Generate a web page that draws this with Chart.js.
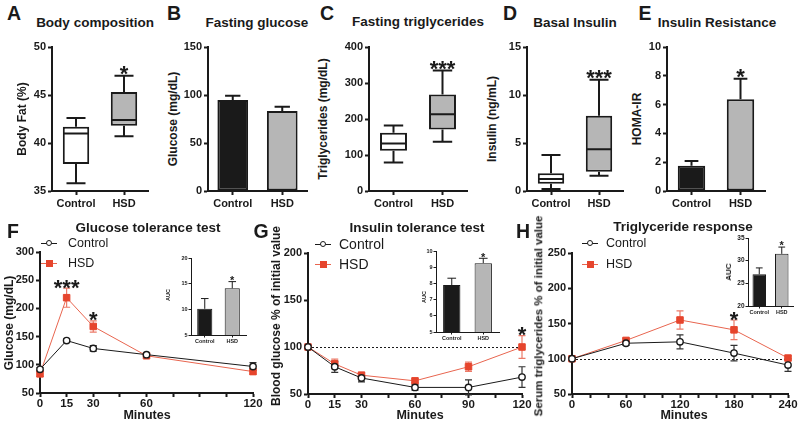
<!DOCTYPE html>
<html><head><meta charset="utf-8">
<script src="https://cdn.jsdelivr.net/npm/chart.js@4.4.0/dist/chart.umd.min.js"></script>
<style>
html,body{margin:0;padding:0;background:#fff;}
#root{position:relative;width:800px;height:427px;overflow:hidden;font-family:"Liberation Sans",Arial,Helvetica,sans-serif;color:#1a1a1a;}
.t{position:absolute;white-space:nowrap;transform:translate(-50%,-50%);line-height:1;}
.r{transform:translate(-50%,-50%) rotate(-90deg);}
.l{position:absolute;white-space:nowrap;transform:translate(0,-50%);line-height:1;}
</style></head><body><div id="root"></div>
<script>
// ---------------- DATA ----------------
const groups = ['Control', 'HSD'];

// A  Body composition: [min, q1, median, q3, max]
const bodyFatControl = [35.8, 37.8, 41.0, 41.7, 42.6];
const bodyFatHSD     = [40.7, 41.8, 42.4, 45.3, 47.0];
const bodyFatSig     = ['', '*'];
// B  Fasting glucose (mean, error)
const glucoseMean = [94.8, 83.3];
const glucoseErr  = [4.4, 4.5];
const glucoseSig  = ['', ''];
// C  Fasting triglycerides
const tgControl = [79, 112, 132, 162, 182];
const tgHSD     = [137, 171, 213, 268, 335];
const tgSig     = ['', '***'];
// D  Basal insulin
const insulinControl = [0.2, 0.75, 1.25, 1.85, 3.75];
const insulinHSD     = [1.6, 2.0, 4.35, 7.85, 11.6];
const insulinSig     = ['', '***'];
// E  HOMA-IR
const homaMean = [1.76, 6.37];
const homaErr  = [0.33, 1.43];
const homaSig  = ['', '*'];

// F  Glucose tolerance test
const gttMinutes    = [0, 15, 30, 60, 120];
const gttTickLabels = [0, 15, 30, 60, 120];
const gttControl    = [92, 143, 129, 118, 97];
const gttControlErr = [3, 3, 5, 3, 7];
const gttHSD        = [84, 219, 168, 116, 88];
const gttHSDErr     = [5, 17, 10, 3, 5];
const gttSig        = ['', '***', '*', '', ''];
const gttAuc        = [10.1, 14.1];
const gttAucErr     = [2.0, 1.3];
const gttAucSig     = ['', '*'];

// G  Insulin tolerance test (% of initial)
const ittMinutes    = [0, 15, 30, 60, 90, 120];
const ittTickLabels = [0, 15, 30, 60, 90, 120];
const ittControl    = [100, 79, 67, 57, 57, 68];
const ittControlErr = [0, 6, 4, 3, 8, 11];
const ittHSD        = [100, 82, 70, 64, 79, 100];
const ittHSDErr     = [0, 5, 3, 2, 5, 12];
const ittSig        = ['', '', '', '', '', '*'];
const ittAuc        = [7.9, 9.25];
const ittAucErr     = [0.42, 0.3];
const ittAucSig     = ['', '*'];

// H  Triglyceride response (% of initial)
const tgrMinutes    = [0, 60, 120, 180, 240];
const tgrTickLabels = [0, 60, 120, 180, 240];
const tgrControl    = [100, 122, 124, 108, 91];
const tgrControlErr = [0, 3, 10, 11, 9];
const tgrHSD        = [100, 126, 155, 141, 101];
const tgrHSDErr     = [0, 3, 13, 14, 3];
const tgrSig        = ['', '', '', '*', ''];
const tgrAuc        = [27.0, 31.5];
const tgrAucErr     = [1.4, 1.5];
const tgrAucSig     = ['', '*'];

const referenceLevel = 100;

// ---------------- STYLE ----------------
const FONT = '"Liberation Sans", Arial, Helvetica, sans-serif';
const INK = '#1a1a1a', GRAY = '#b6b6b6', RED = '#e6452d', RED_LINE = '#e8654f', RED_ERR = '#ec7a68';
Chart.defaults.font.family = FONT;
const MAIN = {font: 11, pad: 2, tick: 4, lw: 2};
const MAIN_X = {font: 11, pad: 3, tick: 4, lw: 2};
const LINE_X = {font: 11.5, pad: 1, tick: 4, lw: 2};
const INSET = {font: 5.5, pad: 1, tick: 2.5, lw: 1};

const root = document.getElementById('root');
function canvasAt(b) {
  const c = document.createElement('canvas');
  c.width = b.w; c.height = b.h;
  c.style.cssText = `position:absolute;left:${b.l}px;top:${b.t}px;width:${b.w}px;height:${b.h}px;`;
  root.appendChild(c);
  return c;
}
function frame(b, a) { return {yW: a.l - b.l, xH: b.t + b.h - a.b, padT: a.t - b.t, padR: b.l + b.w - a.r}; }
function fnt(s) { return {family: FONT, size: s.font, weight: 'bold', lineHeight: 1}; }
function gridOpt(s, offset) {
  return {offset: offset, drawOnChartArea: false, drawTicks: true, tickLength: s.tick, tickWidth: s.lw, tickColor: INK};
}
function yScale(f, min, max, step, s) {
  return {type: 'linear', min, max,
    ticks: {stepSize: step, color: INK, font: fnt(s), padding: s.pad, autoSkip: false},
    grid: gridOpt(s, false), border: {display: true, width: s.lw, color: INK},
    afterFit(sc) { sc.width = f.yW; }};
}
function xCat(f, s) {
  return {type: 'category', offset: true,
    ticks: {color: INK, font: fnt(s), padding: s.pad, autoSkip: false, maxRotation: 0},
    grid: gridOpt(s, false), border: {display: true, width: s.lw, color: INK},
    afterFit(sc) { sc.height = f.xH; }};
}
function xLin(f, s, max, step, shown) {
  return {type: 'linear', min: 0, max,
    ticks: {stepSize: step, color: INK, font: fnt(s), padding: s.pad, autoSkip: false, maxRotation: 0,
      callback: v => shown.includes(v) ? String(v) : ''},
    grid: gridOpt(s, false), border: {display: true, width: s.lw, color: INK},
    afterFit(sc) { sc.height = f.xH; }};
}
function baseOptions(f, scales) {
  return {responsive: false, animation: false, events: [],
    layout: {padding: {top: f.padT, right: f.padR, left: 0, bottom: 0}},
    plugins: {legend: {display: false}, tooltip: {enabled: false}, title: {display: false}},
    scales};
}
function drawSig(ctx, text, x, cy, size) {
  if (!text) return;
  ctx.save();
  ctx.fillStyle = INK; ctx.font = `bold ${size}px ${FONT}`;
  ctx.textAlign = 'center'; ctx.textBaseline = 'alphabetic';
  ctx.fillText(text, x, cy + size * 0.57);
  ctx.restore();
}

// ---------- box plot ----------
function boxChart(b, a, stats, sig, ymin, ymax, step) {
  const f = frame(b, a);
  const whisk = {id: 'whisk', afterDatasetsDraw(chart) {
    const ctx = chart.ctx, y = chart.scales.y, meta = chart.getDatasetMeta(0);
    const py = v => y.getPixelForValue(v);
    ctx.save(); ctx.strokeStyle = INK; ctx.lineWidth = 2;
    stats.forEach((s, i) => {
      const el = meta.data[i], x = el.x, half = el.width / 2, cap = el.width * 0.36;
      ctx.beginPath();
      ctx.moveTo(x, py(s[3])); ctx.lineTo(x, py(s[4]));
      ctx.moveTo(x - cap, py(s[4])); ctx.lineTo(x + cap, py(s[4]));
      ctx.moveTo(x, py(s[1])); ctx.lineTo(x, py(s[0]));
      ctx.moveTo(x - cap, py(s[0])); ctx.lineTo(x + cap, py(s[0]));
      ctx.moveTo(x - half + 1, py(s[2])); ctx.lineTo(x + half - 1, py(s[2]));
      ctx.stroke();
      drawSig(ctx, sig[i], x, py(s[4]) - 7, 22);
    });
    ctx.restore();
  }};
  new Chart(canvasAt(b), {
    type: 'bar',
    data: {labels: groups, datasets: [{data: stats.map(s => [s[1], s[3]]),
      backgroundColor: ['#ffffff', GRAY], borderColor: INK, borderWidth: 2, borderSkipped: false,
      barPercentage: 0.55, categoryPercentage: 1}]},
    options: baseOptions(f, {x: xCat(f, MAIN_X), y: yScale(f, ymin, ymax, step, MAIN)}),
    plugins: [whisk]
  });
}

// ---------- bar with error ----------
function barChart(b, a, means, errs, sig, ymin, ymax, step, st, stx, pct, sigSize, sigOff) {
  const f = frame(b, a);
  const eb = {id: 'errbar', afterDatasetsDraw(chart) {
    const ctx = chart.ctx, y = chart.scales.y, meta = chart.getDatasetMeta(0);
    ctx.save(); ctx.strokeStyle = INK; ctx.lineWidth = st.lw;
    means.forEach((m, i) => {
      const el = meta.data[i], x = el.x, cap = el.width * 0.25;
      const top = y.getPixelForValue(m + errs[i]);
      ctx.beginPath();
      ctx.moveTo(x, y.getPixelForValue(m)); ctx.lineTo(x, top);
      ctx.moveTo(x - cap, top); ctx.lineTo(x + cap, top);
      ctx.stroke();
      drawSig(ctx, sig[i], x, top - sigOff, sigSize);
    });
    ctx.restore();
  }};
  new Chart(canvasAt(b), {
    type: 'bar',
    data: {labels: groups, datasets: [{data: means,
      backgroundColor: [INK, GRAY], borderColor: INK, borderWidth: st.lw, borderSkipped: false,
      barPercentage: pct, categoryPercentage: 1}]},
    options: baseOptions(f, {x: xCat(f, stx), y: yScale(f, ymin, ymax, step, st)}),
    plugins: [eb]
  });
}

// ---------- line with error ----------
function lineChart(b, a, xs, ctrl, ctrlErr, hsd, hsdErr, sig, xmax, xstep, shown, ymin, ymax, ystep, ref) {
  const f = frame(b, a);
  const pl = {id: 'lineerr',
    beforeDatasetsDraw(chart) {
      const ctx = chart.ctx, x = chart.scales.x, y = chart.scales.y, ca = chart.chartArea;
      ctx.save();
      if (ref !== null) {
        ctx.strokeStyle = INK; ctx.lineWidth = 1; ctx.setLineDash([2, 2]);
        const ry = Math.round(y.getPixelForValue(ref)) + 0.5;
        ctx.beginPath(); ctx.moveTo(ca.left, ry); ctx.lineTo(ca.right, ry); ctx.stroke();
        ctx.setLineDash([]);
      }
      [[ctrl, ctrlErr, '#333333'], [hsd, hsdErr, RED_ERR]].forEach(([v, e, col]) => {
        ctx.strokeStyle = col; ctx.lineWidth = 1.2;
        xs.forEach((t, i) => {
          if (!e[i]) return;
          const px = x.getPixelForValue(t), lo = y.getPixelForValue(v[i] - e[i]), hi = y.getPixelForValue(v[i] + e[i]);
          ctx.beginPath();
          ctx.moveTo(px, lo); ctx.lineTo(px, hi);
          ctx.moveTo(px - 3.5, lo); ctx.lineTo(px + 3.5, lo);
          ctx.moveTo(px - 3.5, hi); ctx.lineTo(px + 3.5, hi);
          ctx.stroke();
        });
      });
      ctx.restore();
    },
    afterDatasetsDraw(chart) {
      const ctx = chart.ctx, x = chart.scales.x, y = chart.scales.y;
      xs.forEach((t, i) => {
        const top = Math.max(hsd[i] + hsdErr[i], ctrl[i] + ctrlErr[i]);
        drawSig(ctx, sig[i], x.getPixelForValue(t), y.getPixelForValue(top) - 6, 22);
      });
    }};
  new Chart(canvasAt(b), {
    type: 'line',
    data: {datasets: [
      {data: xs.map((t, i) => ({x: t, y: ctrl[i]})), borderColor: INK, borderWidth: 1,
        pointStyle: 'circle', pointRadius: 3.2, pointBackgroundColor: '#ffffff', pointBorderColor: INK,
        pointBorderWidth: 1.4, tension: 0, clip: false},
      {data: xs.map((t, i) => ({x: t, y: hsd[i]})), borderColor: RED_LINE, borderWidth: 1,
        pointStyle: 'rect', pointRadius: 4.6, pointBackgroundColor: RED, pointBorderColor: RED,
        pointBorderWidth: 1, tension: 0, clip: false}
    ]},
    options: baseOptions(f, {x: xLin(f, LINE_X, xmax, xstep, shown), y: yScale(f, ymin, ymax, ystep, MAIN)}),
    plugins: [pl]
  });
}

// ---------------- PANELS ----------------
// top row
boxChart({l: 28, t: 35, w: 128, h: 182}, {l: 52, t: 47, r: 148, b: 191}, [bodyFatControl, bodyFatHSD], bodyFatSig, 35, 50, 5);
barChart({l: 184, t: 35, w: 130, h: 182}, {l: 208, t: 47, r: 307, b: 191}, glucoseMean, glucoseErr, glucoseSig, 0, 150, 50, MAIN, MAIN_X, 0.62, 22, 7);
boxChart({l: 340, t: 35, w: 134, h: 182}, {l: 369, t: 47, r: 467, b: 191}, [tgControl, tgHSD], tgSig, 0, 400, 100);
boxChart({l: 503, t: 35, w: 127, h: 182}, {l: 527, t: 47, r: 623, b: 191}, [insulinControl, insulinHSD], insulinSig, 0, 15, 5);
barChart({l: 647, t: 35, w: 125, h: 182}, {l: 667, t: 47, r: 765, b: 191}, homaMean, homaErr, homaSig, 0, 10, 2, MAIN, MAIN_X, 0.56, 22, 7);

// bottom row
lineChart({l: 0, t: 240, w: 266, h: 187}, {l: 40, t: 252, r: 253, b: 393},
  gttMinutes, gttControl, gttControlErr, gttHSD, gttHSDErr, gttSig, 120, 15, gttTickLabels, 50, 300, 50, null);
lineChart({l: 266, t: 240, w: 267, h: 187}, {l: 308, t: 253, r: 522, b: 394},
  ittMinutes, ittControl, ittControlErr, ittHSD, ittHSDErr, ittSig, 120, 15, ittTickLabels, 50, 200, 50, referenceLevel);
lineChart({l: 533, t: 240, w: 267, h: 187}, {l: 572, t: 253, r: 788, b: 394},
  tgrMinutes, tgrControl, tgrControlErr, tgrHSD, tgrHSDErr, tgrSig, 240, 20, tgrTickLabels, 50, 250, 50, referenceLevel);

// insets
barChart({l: 170, t: 248, w: 82, h: 104}, {l: 191, t: 258, r: 246, b: 335}, gttAuc, gttAucErr, gttAucSig, 5, 20, 5, INSET, INSET, 0.55, 11, 4);
barChart({l: 415, t: 241, w: 90, h: 108}, {l: 436, t: 251, r: 499, b: 332}, ittAuc, ittAucErr, ittAucSig, 5, 10, 1, INSET, INSET, 0.55, 11, 4);
barChart({l: 727, t: 228, w: 73, h: 95}, {l: 748, t: 238, r: 793, b: 306}, tgrAuc, tgrAucErr, tgrAucSig, 20, 35, 5,
  {font: 6.5, pad: 1, tick: 2.5, lw: 1}, {font: 5.5, pad: 1, tick: 2.5, lw: 1}, 0.6, 11, 4);

// ---------------- TEXT ----------------
function txt(s, x, y, size, bold, rot) {
  const d = document.createElement('div');
  d.className = 't' + (rot ? ' r' : '');
  d.textContent = s;
  d.style.left = x + 'px'; d.style.top = y + 'px';
  d.style.fontSize = size + 'px'; d.style.fontWeight = bold ? 'bold' : 'normal';
  root.appendChild(d);
}
[['A', 14, 14], ['B', 174, 14], ['C', 327, 14], ['D', 510, 14], ['E', 645, 14],
 ['F', 13, 232], ['G', 261, 232], ['H', 523, 232]].forEach(([s, x, y]) => txt(s, x, y, 19.5, true));
[['Body composition', 95, 23], ['Fasting glucose', 257, 23], ['Fasting triglycerides', 418, 22],
 ['Basal Insulin', 575, 23], ['Insulin Resistance', 717, 23],
 ['Glucose tolerance test', 148, 228], ['Insulin tolerance test', 417, 228], ['Triglyceride response', 683, 227]]
 .forEach(([s, x, y]) => txt(s, x, y, 13.5, true));
[['Body Fat (%)', 22, 119, 12], ['Glucose (mg/dL)', 173, 119, 12], ['Triglycerides (mg/dL)', 323, 119, 12],
 ['Insulin (ng/mL)', 492, 119, 12], ['HOMA-IR', 637, 119, 12],
 ['Glucose (mg/dL)', 9, 323, 12], ['Blood glucose % of initial value', 276, 316, 12],
 ['Serum triglycerides % of initial value', 539, 316, 11.5],
 ['AUC', 169, 295, 5.5], ['AUC', 425, 297, 5.5], ['AUC', 729, 272, 8]]
 .forEach(([s, x, y, z]) => txt(s, x, y, z, true, true));
[['Minutes', 147, 415], ['Minutes', 420, 415], ['Minutes', 684, 415]].forEach(([s, x, y]) => txt(s, x, y, 12.5, true));

function legendItem(cx, cy, kind, label, textX, size) {
  const ln = document.createElement('div');
  ln.style.cssText = `position:absolute;left:${cx - 8}px;top:${cy - 0.5}px;width:16px;height:1.2px;background:${kind === 'circle' ? INK : RED_LINE};`;
  root.appendChild(ln);
  const m = document.createElement('div');
  if (kind === 'circle') {
    m.style.cssText = `position:absolute;left:${cx - 3.5}px;top:${cy - 3.5}px;width:4.4px;height:4.4px;border:1.3px solid ${INK};border-radius:50%;background:#fff;`;
  } else {
    m.style.cssText = `position:absolute;left:${cx - 3.5}px;top:${cy - 3.5}px;width:7px;height:7px;background:${RED};`;
  }
  root.appendChild(m);
  const t = document.createElement('div');
  t.className = 'l'; t.textContent = label;
  t.style.left = textX + 'px'; t.style.top = cy + 'px'; t.style.fontSize = size + 'px';
  root.appendChild(t);
}
legendItem(49, 243, 'circle', groups[0], 68, 12.5);
legendItem(49, 263, 'rect', groups[1], 68, 12.5);
legendItem(323, 244, 'circle', groups[0], 339, 14);
legendItem(323, 264, 'rect', groups[1], 339, 14);
legendItem(590, 243, 'circle', groups[0], 606, 12.5);
legendItem(590, 264, 'rect', groups[1], 606, 12.5);
</script></body></html>
